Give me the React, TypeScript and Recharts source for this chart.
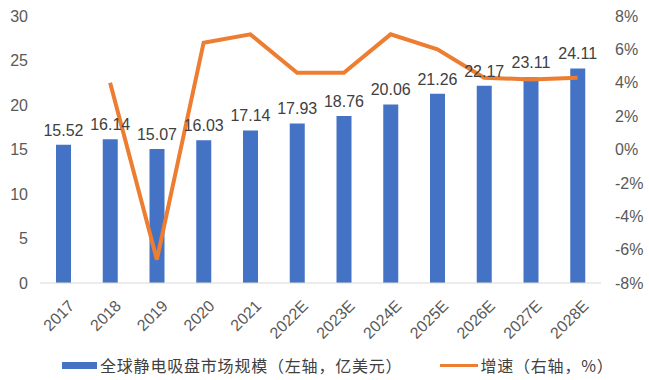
import {
  ComposedChart,
  Bar,
  Line,
  XAxis,
  YAxis,
  LabelList,
  Legend,
} from "recharts";

const years = ["2017", "2018", "2019", "2020", "2021", "2022E", "2023E", "2024E", "2025E", "2026E", "2027E", "2028E"];
const marketSize = [15.52, 16.14, 15.07, 16.03, 17.14, 17.93, 18.76, 20.06, 21.26, 22.17, 23.11, 24.11];
const growth = [null, 4.0, -6.6, 6.4, 6.9, 4.6, 4.6, 6.9, 6.0, 4.3, 4.2, 4.3];
const leftTicks = [0, 5, 10, 15, 20, 25, 30];
const rightTicks = [-8, -6, -4, -2, 0, 2, 4, 6, 8];

const BLUE = "#4472C4";
const ORANGE = "#ED7D31";
const FONT = "'Liberation Sans', Arial, sans-serif";
const CJK = "'Noto Sans CJK SC', sans-serif";

const data = years.map((year, i) => ({
  year,
  size: marketSize[i],
  growth: growth[i],
}));

// rotated year labels under the bars
const YearTick = (props: any) => {
  const { x, y, payload } = props;
  const ax = x + 4;
  const ay = y + 8;
  return (
    <text
      x={ax}
      y={ay}
      textAnchor="end"
      fill="#595959"
      fontSize={16}
      fontFamily={FONT}
      transform={`rotate(-45, ${ax}, ${ay})`}
      dy="0.7em"
    >
      {payload.value}
    </text>
  );
};

const LegendBox = () => (
  <div
    style={{
      display: "flex",
      alignItems: "center",
      fontFamily: CJK,
      fontSize: 16,
      lineHeight: "20px",
      letterSpacing: 0.8,
      color: "#404040",
      paddingLeft: 62,
      paddingTop: 4,
    }}
  >
    <span style={{ display: "inline-block", width: 35, height: 7, background: BLUE, marginRight: 3 }} />
    <span>全球静电吸盘市场规模（左轴，亿美元）</span>
    <span style={{ display: "inline-block", width: 38, height: 3, background: ORANGE, marginLeft: 38, marginRight: 2 }} />
    <span>增速（右轴，%）</span>
  </div>
);

export default function App() {
  return (
    <div style={{ position: "absolute", left: 0, top: 0, background: "#fff" }}>
      <ComposedChart
        width={649}
        height={380}
        data={data}
        margin={{ top: 16, right: 0, bottom: 0, left: 0 }}
      >
        <XAxis
          dataKey="year"
          axisLine={{ stroke: "#D9D9D9" }}
          tickLine={false}
          interval={0}
          height={68}
          tick={<YearTick />}
        />
        <YAxis
          yAxisId="left"
          domain={[0, 30]}
          ticks={leftTicks}
          axisLine={false}
          tickLine={false}
          width={40}
          tickMargin={6}
          tick={{ fill: "#595959", fontSize: 16, fontFamily: FONT }}
        />
        <YAxis
          yAxisId="right"
          orientation="right"
          domain={[-8, 8]}
          ticks={rightTicks}
          tickFormatter={(v: number) => `${v}%`}
          axisLine={false}
          tickLine={false}
          width={48}
          tickMargin={8}
          tick={{ fill: "#595959", fontSize: 16, fontFamily: FONT, textAnchor: "start" }}
        />
        <Legend verticalAlign="bottom" height={29} content={<LegendBox />} />
        <Bar yAxisId="left" dataKey="size" fill={BLUE} barSize={15} isAnimationActive={false}>
          <LabelList
            dataKey="size"
            position="top"
            offset={9}
            fill="#404040"
            fontSize={16}
            fontFamily={FONT}
            formatter={(v: any) => Number(v).toFixed(2)}
          />
        </Bar>
        <Line
          yAxisId="right"
          dataKey="growth"
          stroke={ORANGE}
          strokeWidth={4}
          dot={false}
          type="linear"
          isAnimationActive={false}
        />
      </ComposedChart>
    </div>
  );
}
